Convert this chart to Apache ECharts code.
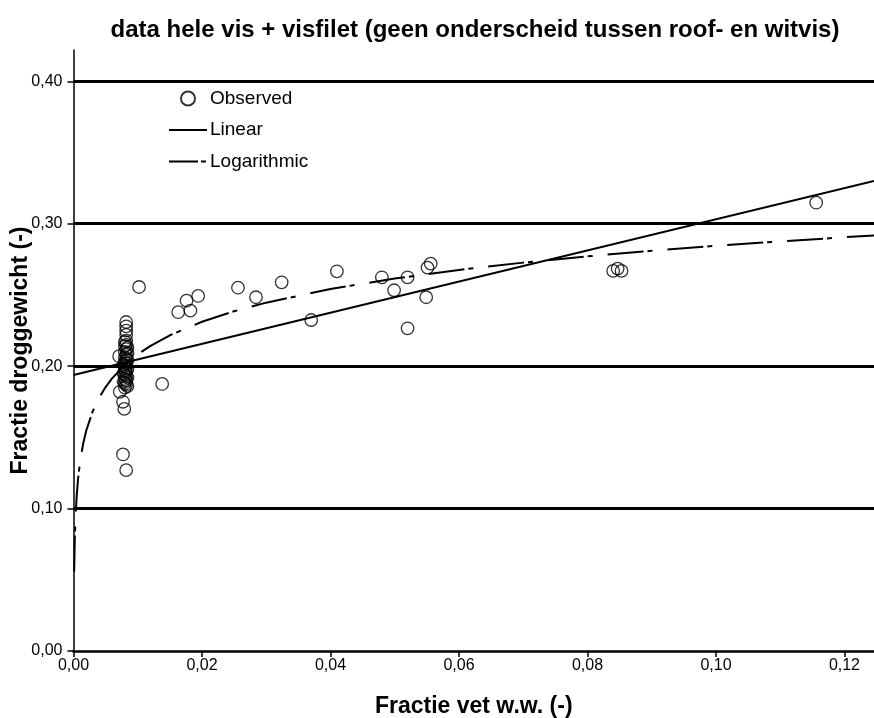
<!DOCTYPE html>
<html><head><meta charset="utf-8">
<script src="https://cdn.jsdelivr.net/npm/echarts@6/dist/echarts.min.js"></script>
<style>html,body{margin:0;padding:0;background:#fff}#c{width:874px;height:718px}</style>
</head><body><div id="c"></div>
<script>
// Observed points (Fractie vet w.w., Fractie droggewicht)
var obsX = [
  0.0082,0.0082,0.0082,0.0082,0.0082,0.0082,0.0082,0.0082,0.0082,0.0082,0.0082,0.0082,0.0082,0.0082,0.0082,
  0.0080,0.0080,0.0080,0.0080,0.0080,0.0080,0.0080,0.0080,0.0080,0.0080,0.0080,
  0.0084,0.0084,0.0084,0.0084,0.0084,0.0084,
  0.0078,0.0078,0.0078,
  0.0071,0.0072,0.0077,0.0079,0.0077,0.0082,
  0.0102,0.0138,0.0163,0.0176,0.0182,0.0194,0.0256,0.0284,0.0324,0.0370,0.0410,
  0.0480,0.0499,0.0520,0.0520,0.0549,0.0551,0.0556,0.0840,0.0847,0.0853,0.1156
];
var obsY = [
  0.231,0.228,0.225,0.222,0.218,0.215,0.212,0.208,0.205,0.202,0.199,0.196,0.193,0.190,0.187,
  0.217,0.214,0.210,0.206,0.203,0.200,0.197,0.194,0.191,0.188,0.185,
  0.213,0.209,0.204,0.198,0.192,0.186,
  0.201,0.195,0.189,
  0.207,0.182,0.175,0.170,0.138,0.127,
  0.2556,0.1875,0.2379,0.2460,0.2390,0.2493,0.2551,0.2484,0.2589,0.2324,0.2666,
  0.2624,0.2533,0.2624,0.2266,0.2484,0.2692,0.2720,0.2669,0.2685,0.2669,0.3148
];
// Linear fit line (read endpoints)
var linX = [0.0, 0.1246];
var linY = [0.1938, 0.3300];
// Logarithmic fit curve (read points)
var logX = [0.0001,0.0002,0.0003,0.0005,0.0007,0.001,0.0015,0.002,0.003,0.004,0.005,0.006,0.008,0.01,0.012,0.015,0.02,0.025,0.03,0.04,0.05,0.06,0.07,0.08,0.09,0.10,0.11,0.12,0.1246];
var logY = [0.0558,0.0788,0.0922,0.1091,0.1203,0.1321,0.1455,0.1550,0.1684,0.1779,0.1853,0.1914,0.2009,0.2083,0.2143,0.2217,0.2312,0.2386,0.2446,0.2542,0.2615,0.2676,0.2727,0.2771,0.2810,0.2845,0.2876,0.2905,0.2918];
// Tick labels / reference lines
var xTickLabels = ['0,00','0,02','0,04','0,06','0,08','0,10','0,12'];
var yTickLabels = ['0,00','0,10','0,20','0,30','0,40'];
var yGridValues = [0.1, 0.2, 0.3, 0.4];

function zip(a,b){var r=[];for(var i=0;i<a.length;i++)r.push([a[i],b[i]]);return r;}
var FONT = '"Liberation Sans", Arial, sans-serif';
var chart = echarts.init(document.getElementById('c'), null, {renderer:'canvas'});
chart.setOption({
  animation:false,
  backgroundColor:'#fff',
  title:{text:'data hele vis + visfilet (geen onderscheid tussen roof- en witvis)',left:470,top:13,textAlign:'center',
    textStyle:{fontFamily:FONT,fontWeight:'bold',fontSize:24,color:'#000'}},
  legend:{orient:'vertical',left:168,top:89,padding:0,itemWidth:38,itemHeight:14,itemGap:12.5,
    textStyle:{fontFamily:FONT,fontSize:19,lineHeight:14,color:'#000',padding:[0,0,0,-2]},
    data:[{name:'Observed'},
          {name:'Linear',itemStyle:{opacity:0}},
          {name:'Logarithmic',itemStyle:{opacity:0},lineStyle:{type:[29,3,5,10]}}]},
  grid:{left:73.5,right:0,top:50,bottom:67,containLabel:false,outerBoundsMode:'none'},
  xAxis:{type:'value',min:0,max:0.1246,interval:0.02,
    name:'Fractie vet w.w. (-)',nameLocation:'middle',nameGap:44,nameMoveOverlap:false,
    nameTextStyle:{fontFamily:FONT,fontWeight:'bold',fontSize:23,color:'#000'},
    axisLine:{show:true,lineStyle:{color:'#000',width:2.5}},
    axisTick:{show:true,length:6,lineStyle:{color:'#000',width:1.5}},
    axisLabel:{fontFamily:FONT,fontSize:16,color:'#000',margin:7,showMaxLabel:false,
      formatter:function(v){var i=Math.round(v/0.02);return xTickLabels[i]||'';}},
    splitLine:{show:false}},
  yAxis:{type:'value',min:0,max:0.422,interval:0.1,
    name:'Fractie droggewicht (-)',nameLocation:'middle',nameGap:41,nameMoveOverlap:false,
    nameTextStyle:{fontFamily:FONT,fontWeight:'bold',fontSize:23,color:'#000'},
    axisLine:{show:true,lineStyle:{color:'#000',width:1.5}},
    axisTick:{show:true,length:6,lineStyle:{color:'#000',width:1.5}},
    axisLabel:{fontFamily:FONT,fontSize:16,color:'#000',margin:11,showMaxLabel:false,
      formatter:function(v){var i=Math.round(v/0.1);return yTickLabels[i]||'';}},
    splitLine:{show:false}},
  series:[
    {name:'Observed',type:'scatter',symbol:'circle',symbolSize:12.5,z:5,
     itemStyle:{color:'rgba(255,255,255,0)',borderColor:'#000',borderWidth:1.3},
     data:zip(obsX,obsY)},
    {name:'Linear',type:'line',showSymbol:false,symbol:'none',z:4,
     lineStyle:{color:'#000',width:2},itemStyle:{color:'#000'},
     data:zip(linX,linY),
     markLine:{silent:true,symbol:['none','none'],label:{show:false},animation:false,
       lineStyle:{color:'#000',width:3,type:'solid'},
       data:yGridValues.map(function(v){return {yAxis:v};})}},
    {name:'Logarithmic',type:'line',showSymbol:false,symbol:'none',smooth:false,z:4,
     lineStyle:{color:'#000',width:2,type:[36,4,5,15]},itemStyle:{color:'#000'},
     data:zip(logX,logY)}
  ]
});
</script></body></html>
